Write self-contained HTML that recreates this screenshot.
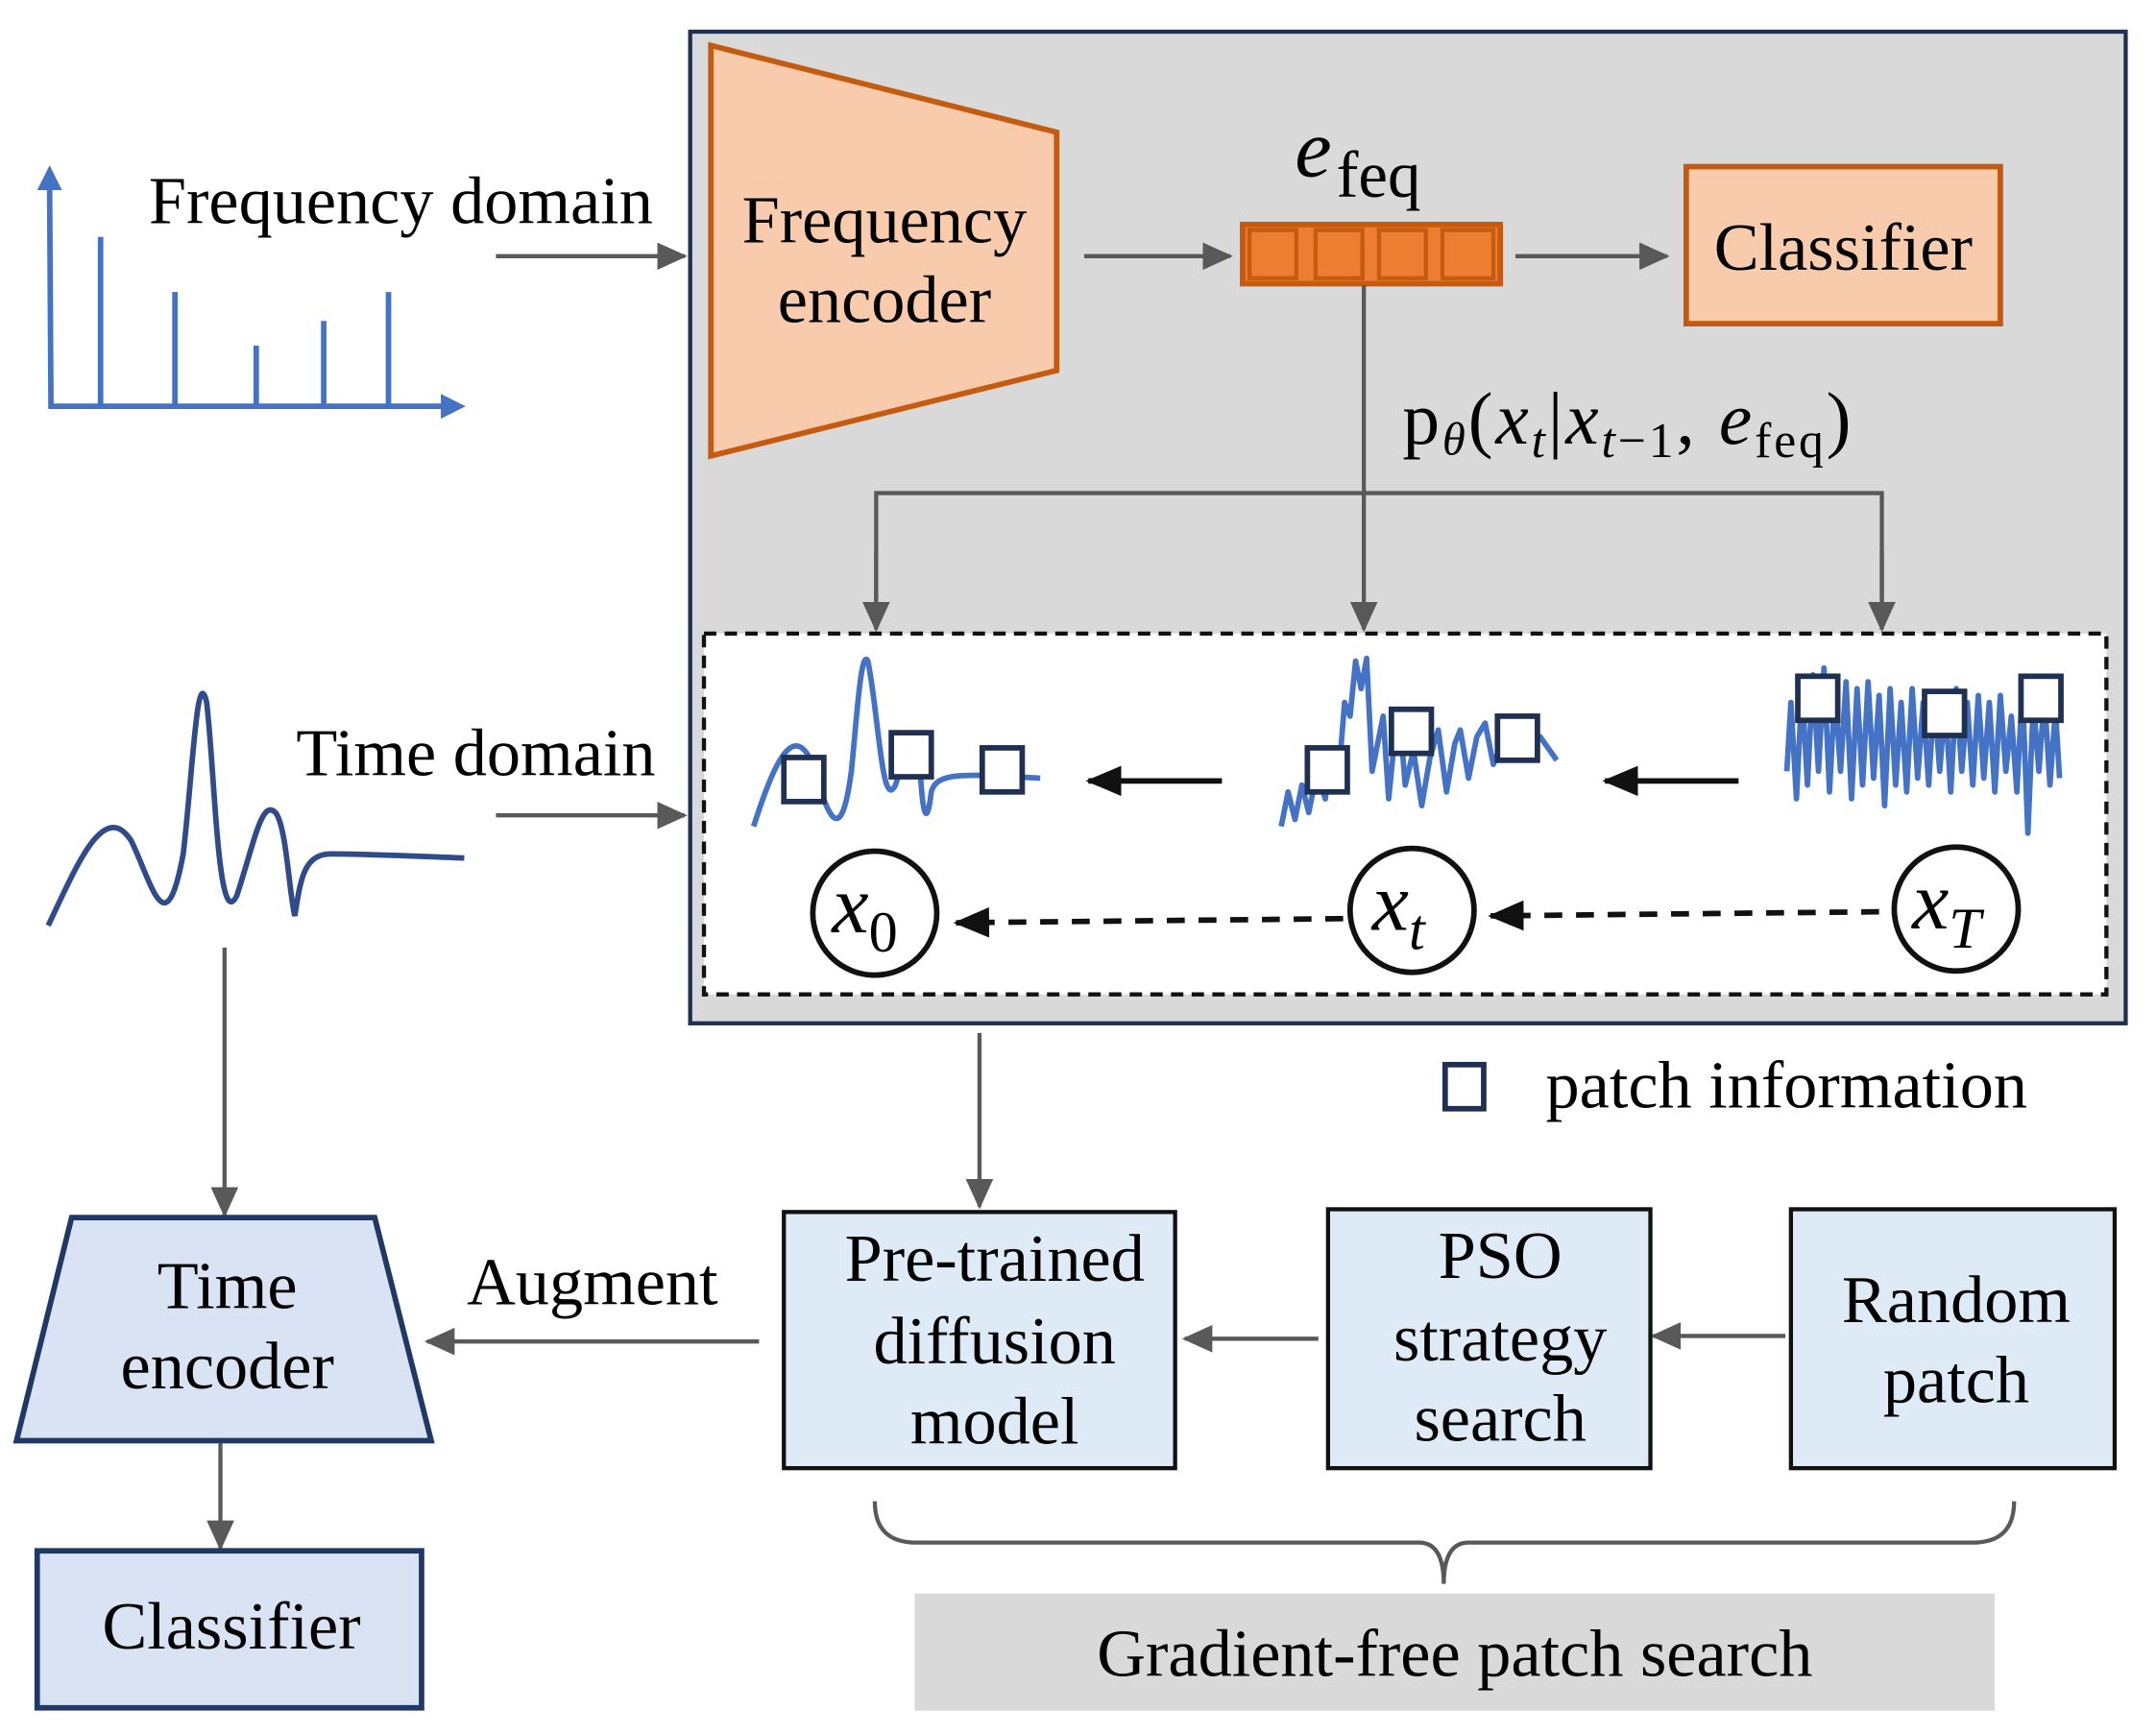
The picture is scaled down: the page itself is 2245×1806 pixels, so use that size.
<!DOCTYPE html>
<html><head><meta charset="utf-8"><style>html,body{margin:0;padding:0;background:#fff}svg{display:block}</style></head><body>
<svg width="2245" height="1806" viewBox="0 0 1565 1259" preserveAspectRatio="none" xmlns="http://www.w3.org/2000/svg" font-family="'Liberation Serif', serif">
<defs>
<marker id="agl" markerWidth="22" markerHeight="20" refX="20" refY="10" orient="auto" markerUnits="userSpaceOnUse"><path d="M0,0 L22,10 L0,20 z" fill="#595959"/></marker>
<marker id="ab" markerWidth="26" markerHeight="22" refX="24" refY="11" orient="auto" markerUnits="userSpaceOnUse"><path d="M0,0 L26,11 L0,22 z" fill="#111"/></marker>
</defs>
<rect x="501" y="23" width="1042" height="720" fill="#d9d9d9" stroke="#1f3050" stroke-width="3"/>
<polygon points="516,33 767,96 767,269 516,331" fill="#f8cbad" stroke="#c55a11" stroke-width="4"/>
<text x="642" y="176" font-size="49" text-anchor="middle">Frequency</text>
<text x="642" y="234" font-size="49" text-anchor="middle">encoder</text>
<text x="940" y="128" font-size="60" font-style="italic">e</text>
<text x="970" y="143" font-size="48">feq</text>
<rect x="902" y="163" width="187" height="43" fill="#ed7d31" stroke="#c55a11" stroke-width="4"/>
<g fill="#ed7d31" stroke="#c55a11" stroke-width="3"><rect x="907" y="167" width="34" height="35"/><rect x="955" y="167" width="34" height="35"/><rect x="1001" y="167" width="34" height="35"/><rect x="1047" y="167" width="37" height="35"/></g>
<g stroke="#595959" stroke-width="3" fill="none">
<line x1="787" y1="186" x2="893" y2="186" marker-end="url(#agl)"/>
<line x1="1100" y1="186" x2="1210" y2="186" marker-end="url(#agl)"/>
<line x1="990" y1="207" x2="990" y2="457" marker-end="url(#agl)"/>
<polyline points="636,457 636,358 1366,358 1366,457" />
<line x1="636" y1="400" x2="636" y2="457" marker-end="url(#agl)"/>
<line x1="1366" y1="400" x2="1366" y2="457" marker-end="url(#agl)"/>
<line x1="360" y1="186" x2="497" y2="186" marker-end="url(#agl)"/>
<line x1="360" y1="592" x2="497" y2="592" marker-end="url(#agl)"/>
<line x1="163" y1="688" x2="163" y2="882" marker-end="url(#agl)"/>
<line x1="160" y1="1048" x2="160" y2="1124" marker-end="url(#agl)"/>
<line x1="551" y1="974" x2="310" y2="974" marker-end="url(#agl)"/>
<line x1="711" y1="750" x2="711" y2="876" marker-end="url(#agl)"/>
<line x1="957" y1="972" x2="860" y2="972" marker-end="url(#agl)"/>
<line x1="1296" y1="970" x2="1200" y2="970" marker-end="url(#agl)"/>
</g>
<rect x="1224" y="121" width="228" height="114" fill="#f8cbad" stroke="#c55a11" stroke-width="4"/>
<text x="1338" y="196" font-size="49" text-anchor="middle">Classifier</text>
<text x="1018" y="322" font-size="54" letter-spacing="2">p<tspan font-style="italic" font-size="34" dy="8">θ</tspan><tspan dy="-8">(</tspan><tspan font-style="italic">x</tspan><tspan font-style="italic" font-size="36" dy="10">t</tspan><tspan dy="-10">|</tspan><tspan font-style="italic">x</tspan><tspan font-style="italic" font-size="36" dy="10">t</tspan><tspan font-size="36">−1</tspan><tspan dy="-10">, </tspan><tspan font-style="italic">e</tspan><tspan font-size="36" dy="10">feq</tspan><tspan dy="-10">)</tspan></text>
<rect x="511" y="460" width="1018" height="262" fill="#fff" stroke="#111" stroke-width="3" stroke-dasharray="9,6"/>
<g fill="none" stroke="#4472c4" stroke-width="4" stroke-linejoin="round">
<path d="M547,600 C560,560 575,520 590,555 C600,590 610,620 618,560 C622,520 625,470 630,480 C638,520 640,590 650,570 C660,540 662,520 668,560 C670,595 673,600 676,575 C680,560 700,562 755,565"/>
<path d="M930,600 L935,575 L940,595 L945,570 L950,590 L956,560 L962,580 L966,545 L972,560 L976,510 L980,520 L984,480 L988,500 L992,478 L996,560 L1000,540 L1004,520 L1008,580 L1012,540 L1016,520 L1020,570 L1026,545 L1032,585 L1038,550 L1044,530 L1050,575 L1056,540 L1060,530 L1066,565 L1072,535 L1078,525 L1084,555 L1090,540 L1096,530 L1104,550 L1110,540 L1118,535 L1130,552"/>
<path d="M1297,560 L1300,510 L1304,580 L1308,500 L1312,570 L1316,490 L1320,560 L1324,485 L1328,575 L1332,500 L1336,560 L1340,495 L1344,580 L1348,500 L1352,570 L1356,495 L1360,565 L1364,505 L1368,585 L1372,500 L1376,570 L1380,510 L1384,575 L1388,500 L1392,565 L1396,510 L1400,570 L1404,505 L1408,560 L1412,510 L1416,575 L1420,500 L1424,560 L1428,510 L1432,570 L1436,505 L1440,565 L1444,510 L1448,575 L1452,505 L1456,560 L1460,520 L1464,575 L1468,500 L1472,605 L1476,510 L1480,560 L1484,505 L1488,570 L1492,515 L1495,565"/>
</g>
<g fill="#fff" stroke="#1f3050" stroke-width="4">
<rect x="569" y="550" width="29" height="32"/><rect x="647" y="532" width="29" height="32"/><rect x="713" y="543" width="29" height="32"/>
<rect x="949" y="543" width="29" height="32"/><rect x="1010" y="515" width="29" height="32"/><rect x="1087" y="520" width="29" height="32"/>
<rect x="1305" y="491" width="29" height="32"/><rect x="1397" y="502" width="29" height="32"/><rect x="1467" y="491" width="29" height="32"/>
</g>
<g stroke="#111" stroke-width="4">
<line x1="887" y1="567" x2="790" y2="567" marker-end="url(#ab)"/>
<line x1="1262" y1="567" x2="1165" y2="567" marker-end="url(#ab)"/>
<line x1="1364" y1="662" x2="1082" y2="665" stroke-dasharray="13,10" marker-end="url(#ab)"/>
<line x1="975" y1="667" x2="694" y2="670" stroke-dasharray="13,10" marker-end="url(#ab)"/>
</g>
<g fill="#fff" stroke="#111" stroke-width="4">
<circle cx="635" cy="663" r="45"/><circle cx="1025" cy="661" r="45"/><circle cx="1420" cy="660" r="45"/>
</g>
<g font-size="60" font-style="italic">
<text x="604" y="677">x<tspan font-size="42" dy="14" font-style="normal">0</tspan></text>
<text x="996" y="675">x<tspan font-size="42" dy="14">t</tspan></text>
<text x="1388" y="674">x<tspan font-size="42" dy="14">T</tspan></text>
</g>
<g stroke="#4472c4" stroke-width="4" fill="none">
<polyline points="36,135 37,295 325,295"/>
<line x1="73" y1="172" x2="73" y2="295"/><line x1="127" y1="212" x2="127" y2="295"/><line x1="186" y1="251" x2="186" y2="295"/><line x1="235" y1="233" x2="235" y2="295"/><line x1="282" y1="212" x2="282" y2="295"/>
</g>
<polygon points="36,120 27,138 45,138" fill="#4472c4"/>
<polygon points="338,295 320,286 320,304" fill="#4472c4"/>
<text x="108" y="162" font-size="49">Frequency domain</text>
<text x="215" y="563" font-size="49">Time domain</text>
<path d="M35,672 C55,630 75,580 95,610 C110,640 120,690 133,620 C140,560 143,480 150,510 C156,560 158,680 172,650 C185,610 190,580 200,590 C208,600 210,650 214,665 C218,640 220,620 240,620 C270,620 310,622 337,623" fill="none" stroke="#2f4b8a" stroke-width="4"/>
<polygon points="52,884 272,884 313,1046 12,1046" fill="#dae3f3" stroke="#1f3864" stroke-width="4"/>
<text x="165" y="950" font-size="49" text-anchor="middle">Time</text>
<text x="165" y="1008" font-size="49" text-anchor="middle">encoder</text>
<rect x="27" y="1126" width="279" height="114" fill="#dae3f3" stroke="#1f3864" stroke-width="4"/>
<text x="168" y="1197" font-size="49" text-anchor="middle">Classifier</text>
<text x="430" y="947" font-size="49" text-anchor="middle">Augment</text>
<g fill="#deebf7" stroke="#111" stroke-width="3">
<rect x="569" y="880" width="284" height="186"/><rect x="964" y="878" width="234" height="188"/><rect x="1300" y="878" width="235" height="188"/>
</g>
<g font-size="49" text-anchor="middle">
<text x="722" y="930">Pre-trained</text><text x="722" y="990">diffusion</text><text x="722" y="1048">model</text>
<text x="1089" y="928">PSO</text><text x="1089" y="988">strategy</text><text x="1089" y="1046">search</text>
<text x="1420" y="960">Random</text><text x="1420" y="1018">patch</text>
</g>
<rect x="1049" y="773" width="28" height="32" fill="#fff" stroke="#1f3050" stroke-width="4"/>
<text x="1122" y="804" font-size="49">patch information</text>
<path d="M635,1090 Q635,1120 665,1120 L1030,1120 Q1048,1120 1048,1150 Q1048,1120 1066,1120 L1432,1120 Q1462,1120 1462,1090" fill="none" stroke="#595959" stroke-width="3"/>
<rect x="664" y="1157" width="784" height="85" fill="#d9d9d9"/>
<text x="1056" y="1217" font-size="49" text-anchor="middle">Gradient-free patch search</text>
</svg>
</body></html>
